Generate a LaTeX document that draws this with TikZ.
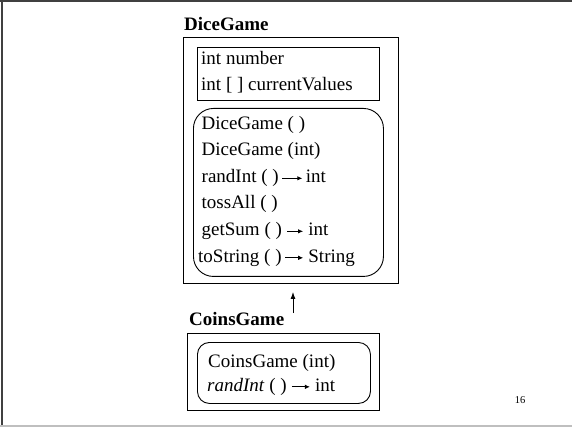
\documentclass[tikz,border=0pt]{standalone}
\usepackage{fontspec}
\setmainfont{Liberation Serif}
\usetikzlibrary{arrows.meta}
\newcommand{\retarrow}[1]{\tikz[baseline=-0.22em]\draw[line width=0.9pt,-{Latex[length=5pt,width=4.5pt]}] (0pt,0pt) -- (#1,0pt);}
\begin{document}
\begin{tikzpicture}[x=1pt,y=-1pt,
  txt/.style={anchor=base west,inner sep=0pt,font=\fontsize{19}{22}\selectfont},
  ttl/.style={anchor=base west,inner sep=0pt,font=\fontsize{19}{22}\selectfont\bfseries},
  sqbox/.style={draw,line width=0.9pt,anchor=north west,inner sep=0pt},
  rdbox/.style={draw,line width=0.9pt,anchor=north west,inner sep=0pt,rounded corners=#1},
  inherit/.style={line width=1pt,-{Latex[length=7pt,width=5pt]}}]
\useasboundingbox (0,0) rectangle (572,427);
% slide frame
\draw[line width=2pt,color=black!75] (0,1) -- (572,1);
\draw[line width=2pt,color=black!75] (1.5,0) -- (1.5,426);
\draw[line width=2pt,color=black!25] (0,425.5) -- (572,425.5);

% DiceGame class
\node[ttl] (dicettl) at (184,30.7) {DiceGame};
\node[sqbox,minimum width=215pt,minimum height=246pt] (dice) at (183,37) {};
\node[sqbox,minimum width=182pt,minimum height=53pt] (dicefields) at (197,47) {};
\node[txt] (f1) at (201,65) {int number};
\node[txt] (f2) at (201,90.5) {int [ ] currentValues};
\node[rdbox=20pt,minimum width=190pt,minimum height=168pt] (dicemethods) at (193,108) {};
\node[txt] (m1) at (201.5,129.5) {DiceGame ( )};
\node[txt] (m2) at (201.5,156) {DiceGame (int)};
\node[txt] (m3) at (201.5,182.5) {randInt ( )\,\retarrow{20pt}\,int};
\node[txt] (m4) at (201.5,209) {tossAll ( )};
\node[txt] (m5) at (201.5,235.5) {getSum ( ) \retarrow{16pt} int};
\node[txt] (m6) at (198,262) {toString ( )\,\retarrow{18pt} String};

% CoinsGame class
\node[ttl] (coinsttl) at (189,325) {CoinsGame};
\node[sqbox,minimum width=192pt,minimum height=77pt] (coins) at (187,333) {};
\node[rdbox=12pt,minimum width=173pt,minimum height=61pt] (coinsmethods) at (197,342) {};
\node[txt] (c1) at (208,367.7) {CoinsGame (int)};
\node[txt] (c2) at (207,391) {\textit{randInt} ( ) \retarrow{18pt} int};

% inheritance arrow
\coordinate (arrtail) at (293,313);
\draw[inherit,shorten >=8pt] (arrtail) -- (arrtail |- dice.south);

% page number
\node[anchor=base,inner sep=0pt,font=\fontsize{10.5}{12}\selectfont] (pageno) at (520,403.5) {16};
\end{tikzpicture}
\end{document}
